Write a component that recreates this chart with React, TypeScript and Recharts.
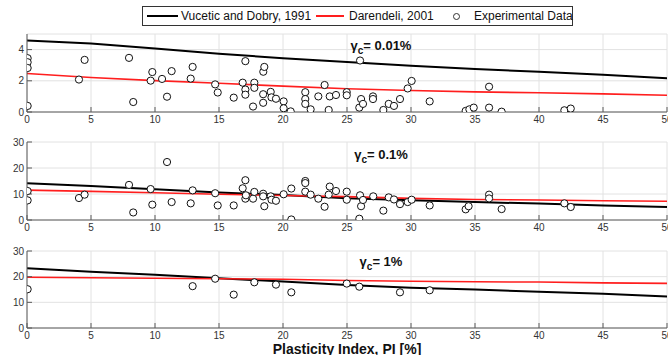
import React from 'react';
import { ComposedChart, Line, Scatter, XAxis, YAxis, CartesianGrid } from 'recharts';

// plasticity index grid used for the two model curves
const piGrid = [0, 5, 10, 15, 20, 25, 30, 35, 40, 45, 50];
const xTicks = [0, 5, 10, 15, 20, 25, 30, 35, 40, 45, 50];

// gamma_c = 0.01 %
const vucetic001 = [4.59, 4.39, 4.07, 3.74, 3.45, 3.2, 2.97, 2.75, 2.58, 2.38, 2.16];
const darendeli001 = [2.47, 2.21, 2.01, 1.84, 1.66, 1.49, 1.38, 1.29, 1.23, 1.16, 1.07];
const expPi001 = [0.05, 0.05, 0.05, 0.05, 4.06, 4.5, 7.97, 8.3, 9.66, 9.79, 10.55, 10.94, 11.3, 12.79, 12.94, 14.7, 14.9, 16.15, 16.85, 17.06, 17.06, 17.06, 17.66, 17.76, 17.76, 18.46, 18.54, 18.45, 18.45, 19.04, 19.1, 19.45, 20.05, 20.05, 20.6, 21.74, 21.74, 21.74, 22.16, 22.76, 23.25, 23.57, 23.65, 24.14, 24.98, 24.98, 26.02, 25.96, 26.1, 26.25, 27.03, 27.03, 27.84, 28.26, 28.67, 29.14, 29.74, 30.05, 31.46, 34.27, 34.56, 34.9, 36.1, 36.1, 37.08, 41.98, 42.48];
const expVal001 = [3.45, 3.19, 2.82, 0.39, 2.08, 3.34, 3.47, 0.64, 2.01, 2.56, 2.12, 0.98, 2.62, 2.14, 2.89, 1.77, 1.25, 0.92, 1.88, 3.26, 1.44, 1.11, 0.35, 1.88, 1.55, 2.58, 2.89, 1.14, 0.59, 1.29, 0.94, 0.85, 0.68, 0.24, 0.04, 1.27, 0.83, 0.52, 0.17, 1.0, 1.73, 0.13, 1.0, 1.09, 1.27, 1.07, 3.3, 0.28, 0.83, 0.52, 1.0, 0.83, 0.13, 0.52, 0.39, 0.83, 1.51, 1.99, 0.68, 0.07, 0.17, 0.28, 1.62, 0.28, 0.02, 0.11, 0.22];

// gamma_c = 0.1 %
const vucetic01 = [14.1, 13.1, 11.8, 10.6, 9.6, 8.4, 7.55, 6.9, 6.3, 5.6, 5.0];
const darendeli01 = [11.5, 11.0, 10.5, 9.9, 9.4, 9.0, 8.3, 7.9, 7.7, 7.4, 7.2];
const expPi01 = [0.05, 0.05, 4.06, 4.5, 7.97, 8.3, 9.66, 9.79, 10.94, 11.3, 12.79, 12.94, 14.7, 14.9, 16.15, 16.85, 17.06, 17.06, 17.1, 17.66, 17.76, 18.45, 18.45, 18.54, 19.04, 19.1, 19.45, 20.05, 20.65, 20.65, 21.74, 21.74, 21.74, 22.16, 22.76, 23.25, 23.65, 23.57, 24.14, 24.98, 24.98, 26.02, 26.1, 26.25, 25.96, 27.05, 27.84, 28.26, 28.67, 29.14, 29.74, 30.05, 31.46, 34.27, 34.5, 36.1, 36.1, 37.08, 41.98, 42.48];
const expVal01 = [11.15, 7.55, 8.45, 9.75, 13.5, 2.9, 11.9, 5.9, 22.3, 6.9, 6.4, 11.4, 10.3, 5.6, 5.6, 12.2, 15.3, 8.2, 9.5, 8.2, 10.8, 10.1, 9.1, 5.3, 9.1, 7.8, 7.4, 9.9, 12.1, 0.2, 15.0, 14.2, 10.9, 9.75, 8.2, 5.1, 12.85, 9.75, 11.15, 10.9, 7.8, 9.5, 5.3, 7.7, 0.5, 9.1, 3.6, 8.7, 7.9, 6.1, 6.9, 7.8, 5.6, 4.1, 5.3, 9.75, 8.3, 4.2, 6.4, 5.0];

// gamma_c = 1 %
const vucetic1 = [23.3, 21.9, 20.7, 19.4, 18.1, 16.8, 15.7, 15.0, 14.1, 13.3, 12.3];
const darendeli1 = [19.8, 19.6, 19.4, 19.2, 19.0, 18.5, 18.2, 18.0, 17.9, 17.6, 17.4];
const expPi1 = [0.05, 12.94, 14.7, 16.15, 17.76, 19.45, 20.65, 24.98, 25.96, 29.14, 31.46];
const expVal1 = [15.1, 16.3, 19.2, 13.0, 17.8, 16.9, 13.9, 17.3, 16.1, 13.9, 14.7];

const FONT = '"Liberation Sans", Arial, sans-serif';
const AXIS = '#5a5a5a';

const Circle = (p: any) => (
  <circle cx={p.cx} cy={p.cy} r={3.6} fill="#fff" stroke="#111" strokeWidth={1} />
);

function Panel({ top, height, marginTop, xAxisHeight, yMax, yTicks, vd, dar, expPi, expVal, xLabel }: any) {
  const lineData = piGrid.map((pi, i) => ({ pi, vd: vd[i], dar: dar[i] }));
  const pts = expPi.map((pi: number, i: number) => ({ pi, val: expVal[i] }));
  return (
    <div style={{ position: 'absolute', left: 0, top, width: 668, height }}>
      <ComposedChart width={668} height={height} margin={{ top: marginTop, right: 1, bottom: 0, left: 0 }}>
        <CartesianGrid stroke="#e2e2e2" />
        <XAxis
          type="number"
          dataKey="pi"
          domain={[0, 50]}
          ticks={xTicks}
          interval={0}
          allowDataOverflow
          height={xAxisHeight}
          tickSize={-5}
          tickMargin={9}
          stroke={AXIS}
          tick={{ fontSize: 10, fill: '#333', fontFamily: FONT }}
          label={xLabel ? { value: xLabel, position: 'insideBottom', offset: 1, fontSize: 14, fontWeight: 'bold', fill: '#111', fontFamily: FONT } : undefined}
        />
        <XAxis xAxisId="top" orientation="top" type="number" domain={[0, 50]} ticks={xTicks} interval={0} height={0} tickSize={-5} tickFormatter={() => ''} stroke={AXIS} />
        <YAxis
          type="number"
          domain={[0, yMax]}
          ticks={yTicks}
          interval={0}
          allowDataOverflow
          width={27}
          tickSize={-5}
          tickMargin={8}
          stroke={AXIS}
          tick={{ fontSize: 10, fill: '#333', fontFamily: FONT }}
        />
        <YAxis yAxisId="right" orientation="right" type="number" domain={[0, yMax]} ticks={yTicks} interval={0} width={0} tickSize={-5} tickFormatter={() => ''} stroke={AXIS} />
        <Line data={lineData} dataKey="vd" type="linear" stroke="#000" strokeWidth={2} dot={false} isAnimationActive={false} />
        <Line data={lineData} dataKey="dar" type="linear" stroke="#ff1e1e" strokeWidth={1.6} dot={false} isAnimationActive={false} />
        <Scatter data={pts} dataKey="val" shape={Circle} isAnimationActive={false} />
      </ComposedChart>
    </div>
  );
}

const Gamma = ({ top, value }: { top: number; value: string }) => (
  <div style={{ position: 'absolute', left: 331, top, width: 100, textAlign: 'center', fontFamily: FONT, fontWeight: 'bold', fontSize: 13, color: '#111', lineHeight: '16px', whiteSpace: 'nowrap' }}>
    γ<sub style={{ fontSize: 10 }}>c</sub>= {value}
  </div>
);

const legendText: React.CSSProperties = { position: 'absolute', top: 2, whiteSpace: 'nowrap', lineHeight: '14px' };

export default function App() {
  return (
    <div style={{ position: 'absolute', left: 0, top: 0, width: 668, height: 355, background: '#fff', overflow: 'hidden' }}>
      <Panel top={0} height={130} marginTop={34} xAxisHeight={18} yMax={5} yTicks={[0, 2, 4]} vd={vucetic001} dar={darendeli001} expPi={expPi001} expVal={expVal001} />
      <Panel top={130} height={110} marginTop={12} xAxisHeight={20} yMax={30} yTicks={[0, 10, 20, 30]} vd={vucetic01} dar={darendeli01} expPi={expPi01} expVal={expVal01} />
      <Panel top={240} height={115} marginTop={11} xAxisHeight={27} yMax={30} yTicks={[0, 10, 20, 30]} vd={vucetic1} dar={darendeli1} expPi={expPi1} expVal={expVal1} xLabel="Plasticity Index, PI [%]" />
      <Gamma top={38} value="0.01%" />
      <Gamma top={147} value="0.1%" />
      <Gamma top={254} value="1%" />
      <div style={{ position: 'absolute', left: 142, top: 6, width: 429, height: 18, border: '1px solid #333', background: '#fff', fontFamily: FONT, fontSize: 12, color: '#111' }}>
        <span style={{ position: 'absolute', left: 4, top: 8, width: 31, height: 2, background: '#000' }} />
        <span style={{ ...legendText, left: 38 }}>Vucetic and Dobry, 1991</span>
        <span style={{ position: 'absolute', left: 173, top: 8, width: 28, height: 2, background: '#ff1e1e' }} />
        <span style={{ ...legendText, left: 206 }}>Darendeli, 2001</span>
        <span style={{ position: 'absolute', left: 310, top: 6, width: 5, height: 5, borderRadius: '50%', border: '1px solid #333' }} />
        <span style={{ ...legendText, left: 331 }}>Experimental Data</span>
      </div>
    </div>
  );
}
